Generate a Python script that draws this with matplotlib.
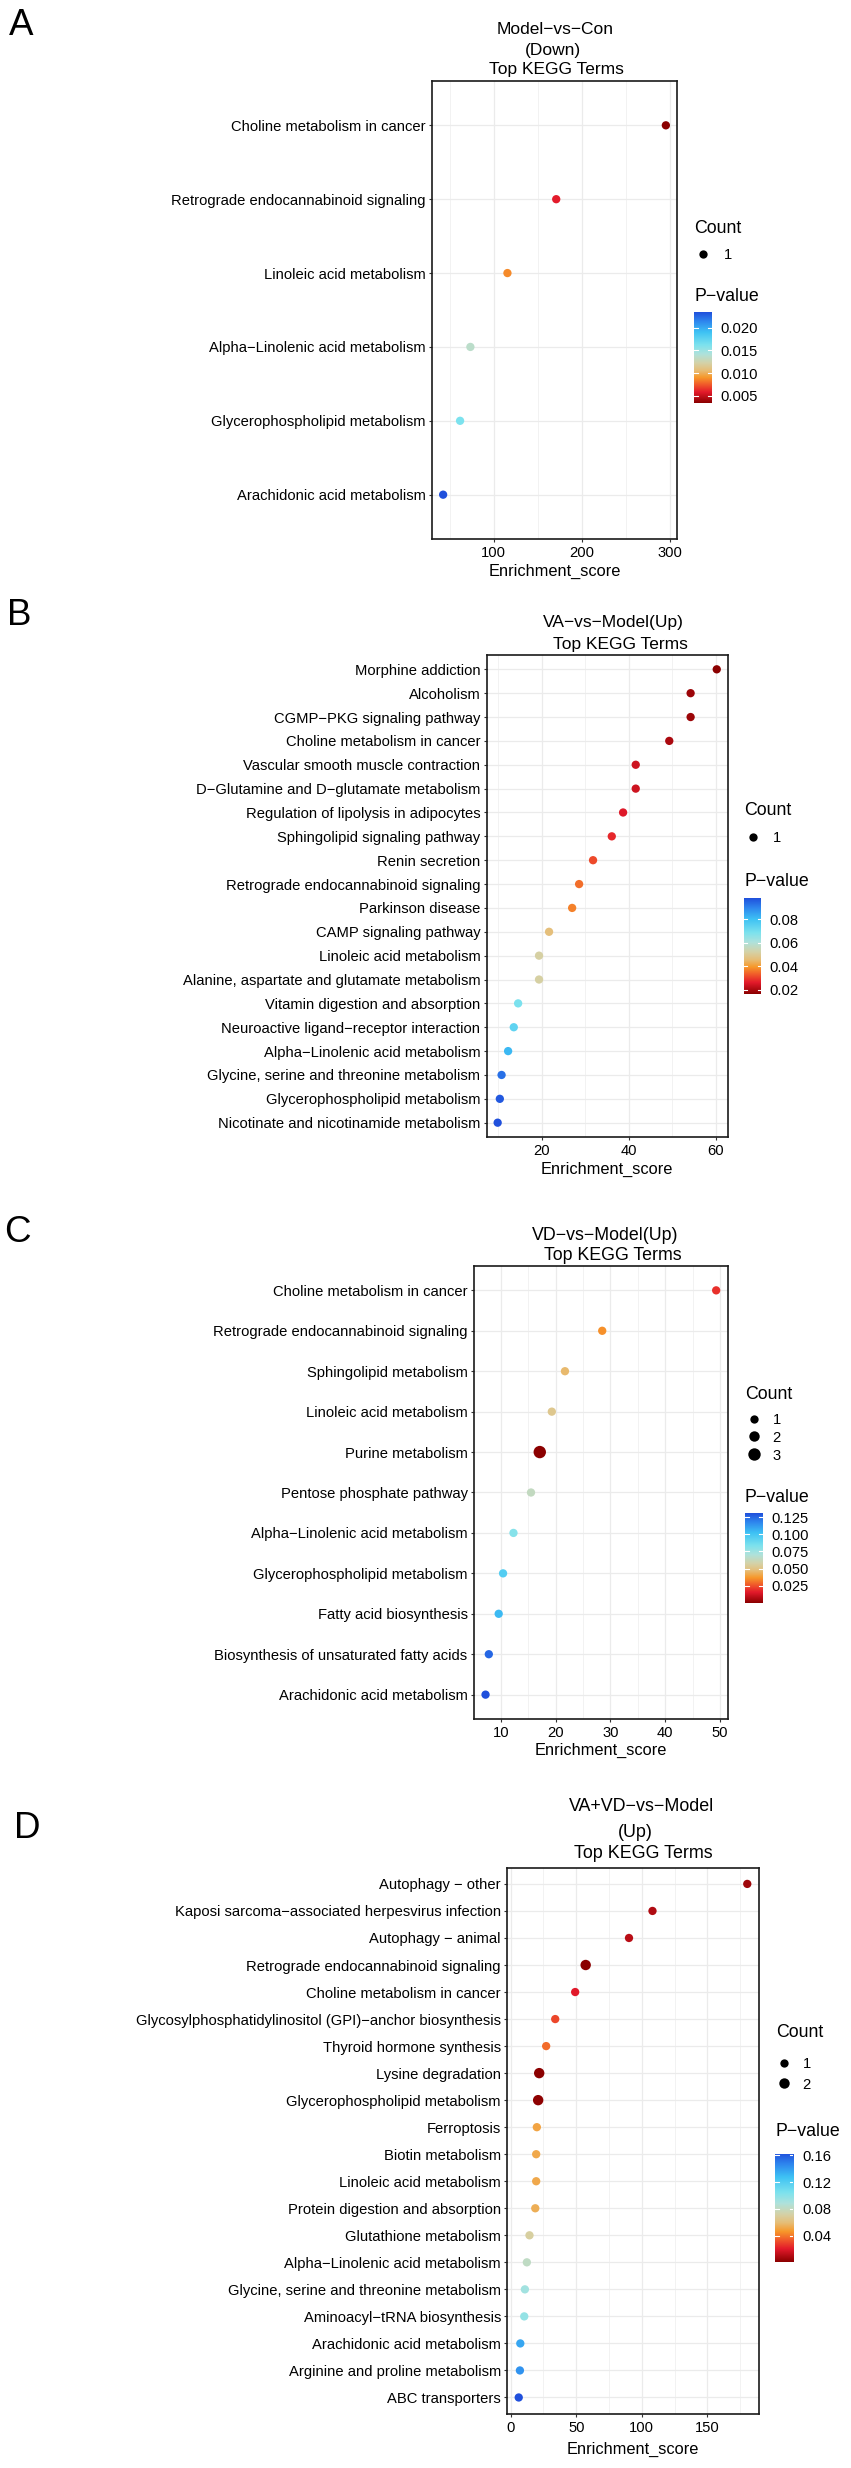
import matplotlib
matplotlib.use("Agg")
import matplotlib.pyplot as plt
from matplotlib.colors import LinearSegmentedColormap, Normalize
import numpy as np

plt.rcParams['font.family'] = ['Liberation Sans', 'DejaVu Sans']

# ---------------- data ----------------
a_terms = ["Choline metabolism in cancer", "Retrograde endocannabinoid signaling",
           "Linoleic acid metabolism", "Alpha-Linolenic acid metabolism",
           "Glycerophospholipid metabolism", "Arachidonic acid metabolism"]
a_score = [295.0, 170.7, 115.4, 73.4, 61.7, 42.5]
a_pval = [0.0034, 0.0059, 0.0087, 0.0136, 0.0162, 0.0235]
a_count = [1, 1, 1, 1, 1, 1]
a_title = ["Model-vs-Con", "(Down)", "Top KEGG Terms"]
a_xticks = [100, 200, 300]
a_cbticks = [0.005, 0.010, 0.015, 0.020]
a_cblabels = ["0.005", "0.010", "0.015", "0.020"]
a_legcounts = [1]

b_terms = ["Morphine addiction", "Alcoholism", "CGMP-PKG signaling pathway",
           "Choline metabolism in cancer", "Vascular smooth muscle contraction",
           "D-Glutamine and D-glutamate metabolism", "Regulation of lipolysis in adipocytes",
           "Sphingolipid signaling pathway", "Renin secretion",
           "Retrograde endocannabinoid signaling", "Parkinson disease",
           "CAMP signaling pathway", "Linoleic acid metabolism",
           "Alanine, aspartate and glutamate metabolism", "Vitamin digestion and absorption",
           "Neuroactive ligand-receptor interaction", "Alpha-Linolenic acid metabolism",
           "Glycine, serine and threonine metabolism", "Glycerophospholipid metabolism",
           "Nicotinate and nicotinamide metabolism"]
b_score = [60.2, 54.2, 54.2, 49.3, 41.6, 41.6, 38.7, 36.1, 31.8, 28.6, 27.0, 21.7,
           19.4, 19.4, 14.6, 13.6, 12.3, 10.8, 10.4, 9.9]
b_pval = [0.0166, 0.0185, 0.0185, 0.0203, 0.0240, 0.0240, 0.0258, 0.0277, 0.0314,
          0.0350, 0.0370, 0.0461, 0.0515, 0.0515, 0.0685, 0.0735, 0.0813, 0.0926,
          0.0962, 0.0975]
b_count = [1] * 20
b_title = ["VA-vs-Model(Up)", "Top KEGG Terms"]
b_xticks = [20, 40, 60]
b_cbticks = [0.02, 0.04, 0.06, 0.08]
b_cblabels = ["0.02", "0.04", "0.06", "0.08"]
b_legcounts = [1]

c_terms = ["Choline metabolism in cancer", "Retrograde endocannabinoid signaling",
           "Sphingolipid metabolism", "Linoleic acid metabolism", "Purine metabolism",
           "Pentose phosphate pathway", "Alpha-Linolenic acid metabolism",
           "Glycerophospholipid metabolism", "Fatty acid biosynthesis",
           "Biosynthesis of unsaturated fatty acids", "Arachidonic acid metabolism"]
c_score = [49.3, 28.5, 21.7, 19.3, 17.1, 15.5, 12.3, 10.4, 9.6, 7.8, 7.2]
c_pval = [0.0200, 0.0357, 0.0460, 0.0520, 0.0005, 0.0640, 0.0810, 0.0960, 0.1040,
          0.1250, 0.1307]
c_count = [1, 1, 1, 1, 3, 1, 1, 1, 1, 1, 1]
c_title = ["VD-vs-Model(Up)", "Top KEGG Terms"]
c_xticks = [10, 20, 30, 40, 50]
c_cbticks = [0.025, 0.050, 0.075, 0.100, 0.125]
c_cblabels = ["0.025", "0.050", "0.075", "0.100", "0.125"]
c_legcounts = [1, 2, 3]

d_terms = ["Autophagy - other", "Kaposi sarcoma-associated herpesvirus infection",
           "Autophagy - animal", "Retrograde endocannabinoid signaling",
           "Choline metabolism in cancer",
           "Glycosylphosphatidylinositol (GPI)-anchor biosynthesis",
           "Thyroid hormone synthesis", "Lysine degradation",
           "Glycerophospholipid metabolism", "Ferroptosis", "Biotin metabolism",
           "Linoleic acid metabolism", "Protein digestion and absorption",
           "Glutathione metabolism", "Alpha-Linolenic acid metabolism",
           "Glycine, serine and threonine metabolism", "Aminoacyl-tRNA biosynthesis",
           "Arachidonic acid metabolism", "Arginine and proline metabolism",
           "ABC transporters"]
d_score = [180.3, 108.1, 90.2, 57.2, 49.2, 34.0, 27.1, 21.8, 21.0, 20.0, 19.5, 19.5,
           18.8, 14.4, 12.4, 10.9, 10.4, 7.4, 7.1, 6.2]
d_pval = [0.0055, 0.0093, 0.0111, 0.0010, 0.0203, 0.0294, 0.0369, 0.0015, 0.0018,
          0.0500, 0.0513, 0.0513, 0.0532, 0.0694, 0.0806, 0.0917, 0.0962, 0.1350,
          0.1410, 0.1615]
d_count = [1, 1, 1, 2, 1, 1, 1, 2, 2, 1, 1, 1, 1, 1, 1, 1, 1, 1, 1, 1]
d_title = ["VA+VD-vs-Model", "(Up)", "Top KEGG Terms"]
d_xticks = [0, 50, 100, 150]
d_cbticks = [0.04, 0.08, 0.12, 0.16]
d_cblabels = ["0.04", "0.08", "0.12", "0.16"]
d_legcounts = [1, 2]

# ---------------- style ----------------
W, H, DPI = 851, 2468, 100
cmap = LinearSegmentedColormap.from_list("pv", [
    (0.00, "#8B0000"), (0.12, "#E31A2B"), (0.20, "#F0582A"), (0.28, "#F7982A"),
    (0.36, "#E6BE78"), (0.44, "#D4D2A8"), (0.54, "#AEE2DC"), (0.64, "#7CE2EE"),
    (0.78, "#3EC2F4"), (0.90, "#2E86EE"), (1.00, "#2050DC")])
SIZE_PX = {1: 8.3, 2: 10.4, 3: 12.4}


def m(s):
    return s.replace("-", "\u2212")


def s_pt2(c):
    return (SIZE_PX[c] * 72.0 / DPI) ** 2


fig = plt.figure(figsize=(W / DPI, H / DPI), dpi=DPI)
ov = fig.add_axes([0, 0, 1, 1], zorder=5)
ov.set_xlim(0, W)
ov.set_ylim(H, 0)
ov.axis("off")
ov.patch.set_visible(False)


def em(pt):
    return pt * DPI / 72.0


def ctext(x, yc, s, pt, ha="center"):
    ov.text(x, yc + 0.358 * em(pt), s, fontsize=pt, ha=ha, va="baseline", color="black")


def panel(box, terms, score, pval, count, xticks, xstep, title, tcent, tpt,
          xlab_y, letter, lpos, leg, cbox, cbticks, cblabels, cbpad):
    left, top, right, bottom = box
    ax = fig.add_axes([left / W, 1 - bottom / H, (right - left) / W, (bottom - top) / H])
    n = len(terms)
    y = np.arange(n, 0, -1)
    vmin, vmax = min(pval), max(pval)
    norm = Normalize(vmin, vmax)
    ax.scatter(score, y, c=pval, cmap=cmap, norm=norm,
               s=[s_pt2(c) for c in count], linewidths=0, zorder=3)
    r = max(score) - min(score)
    ax.set_xlim(min(score) - 0.05 * r, max(score) + 0.05 * r)
    ax.set_ylim(0.4, n + 0.6)
    ax.set_yticks(y)
    ax.set_yticklabels([m(t) for t in terms])
    ax.set_xticks(xticks)
    lo, hi = ax.get_xlim()
    minor = np.arange(np.floor(lo / xstep) * xstep, hi + xstep, xstep)
    minor = [v for v in minor if lo <= v <= hi and v not in xticks]
    ax.set_xticks(minor, minor=True)
    ax.set_axisbelow(True)
    ax.grid(which="major", color="#EBEBEB", lw=0.9)
    ax.grid(which="minor", axis="x", color="#F2F2F2", lw=0.7)
    ax.tick_params(axis="both", which="major", length=2.4, width=0.8, color="#333333",
                   labelsize=10.6, labelcolor="black")
    ax.tick_params(axis="y", pad=2.2)
    ax.tick_params(axis="x", pad=2.6)
    ax.tick_params(which="minor", length=0)
    for sp in ax.spines.values():
        sp.set_linewidth(1.2)
        sp.set_color("#1a1a1a")
    cx = (left + right) / 2
    # title lines
    for (tx, ty), line in zip(tcent, title):
        ctext(tx, ty, m(line), tpt)
    ctext(cx, xlab_y, "Enrichment_score", 11.8)
    # panel letter
    ov.text(lpos[0], lpos[1], letter, fontsize=26.5, ha="left", va="baseline")
    # count legend
    (tx, ty), dotx, labx, ys, (px, py) = leg
    ctext(tx, ty, "Count", 12.8, ha="left")
    for c, yy in zip(count_leg_list[letter], ys):
        ov.scatter([dotx], [yy], s=s_pt2(c), color="black", linewidths=0)
        ctext(labx, yy, str(c), 10.6, ha="left")
    ctext(px, py, m("P-value"), 12.8, ha="left")
    # colorbar
    cl, ct, cr, cb = cbox
    cax = fig.add_axes([cl / W, 1 - cb / H, (cr - cl) / W, (cb - ct) / H])
    grad = np.linspace(vmin, vmax, 256)[:, None]
    cax.imshow(grad, aspect="auto", cmap=cmap, norm=norm, origin="lower",
               extent=[0, 1, vmin, vmax])
    cax.set_xlim(0, 1)
    cax.set_ylim(vmin, vmax)
    cax.set_xticks([])
    cax.yaxis.tick_right()
    cax.set_yticks(cbticks)
    cax.set_yticklabels(cblabels)
    cax.tick_params(axis="y", length=0, pad=cbpad, labelsize=10.6, labelcolor="black")
    for t in cbticks:
        cax.plot([0, 0.2], [t, t], color="white", lw=0.8)
        cax.plot([0.8, 1], [t, t], color="white", lw=0.8)
    for sp in cax.spines.values():
        sp.set_visible(False)
    return ax


count_leg_list = {"A": a_legcounts, "B": b_legcounts, "C": c_legcounts, "D": d_legcounts}

panel((432, 81, 677, 539), a_terms, a_score, a_pval, a_count, a_xticks, 50,
      a_title, [(555, 27.8), (553, 49.0), (556, 67.8)], 12.5,
      570, "A", (9.0, 35),
      ((694, 226.7), 702.7, 724, [254], (694, 294.5)),
      (694, 312, 711.7, 403), a_cbticks, a_cblabels, 6.5)

panel((486.7, 655, 727.7, 1137), b_terms, b_score, b_pval, b_count, b_xticks, 10,
      b_title, [(613.7, 621), (620.8, 642.3)], 12.5,
      1168, "B", (6.6, 625),
      ((744, 808.3), 752.7, 773.3, [836.7], (744, 880)),
      (744, 898.3, 761, 994), b_cbticks, b_cblabels, 6.0)

panel((474, 1266.1, 727.7, 1718.9), c_terms, c_score, c_pval, c_count, c_xticks, 5,
      c_title, [(605.5, 1233.4), (613, 1253.3)], 12.8,
      1749, "C", (4.0, 1241.5),
      ((745, 1392.5), 754, 772.7, [1418.5, 1436.4, 1454.3], (745, 1495.5)),
      (745, 1513.2, 762.7, 1602.5), c_cbticks, c_cblabels, 6.5)

panel((507.3, 1867.7, 758.7, 2413.7), d_terms, d_score, d_pval, d_count, d_xticks, 25,
      d_title, [(641.7, 1804.7), (635.8, 1830.7), (643.8, 1851.5)], 12.9,
      2448, "D", (14.2, 1838.3),
      ((775.7, 2030.5), 784.3, 802.7, [2062.7, 2083.3], (775.7, 2130)),
      (775, 2154, 793.3, 2262.3), d_cbticks, d_cblabels, 6.5)

fig.savefig("out.png", dpi=DPI, facecolor="white")
